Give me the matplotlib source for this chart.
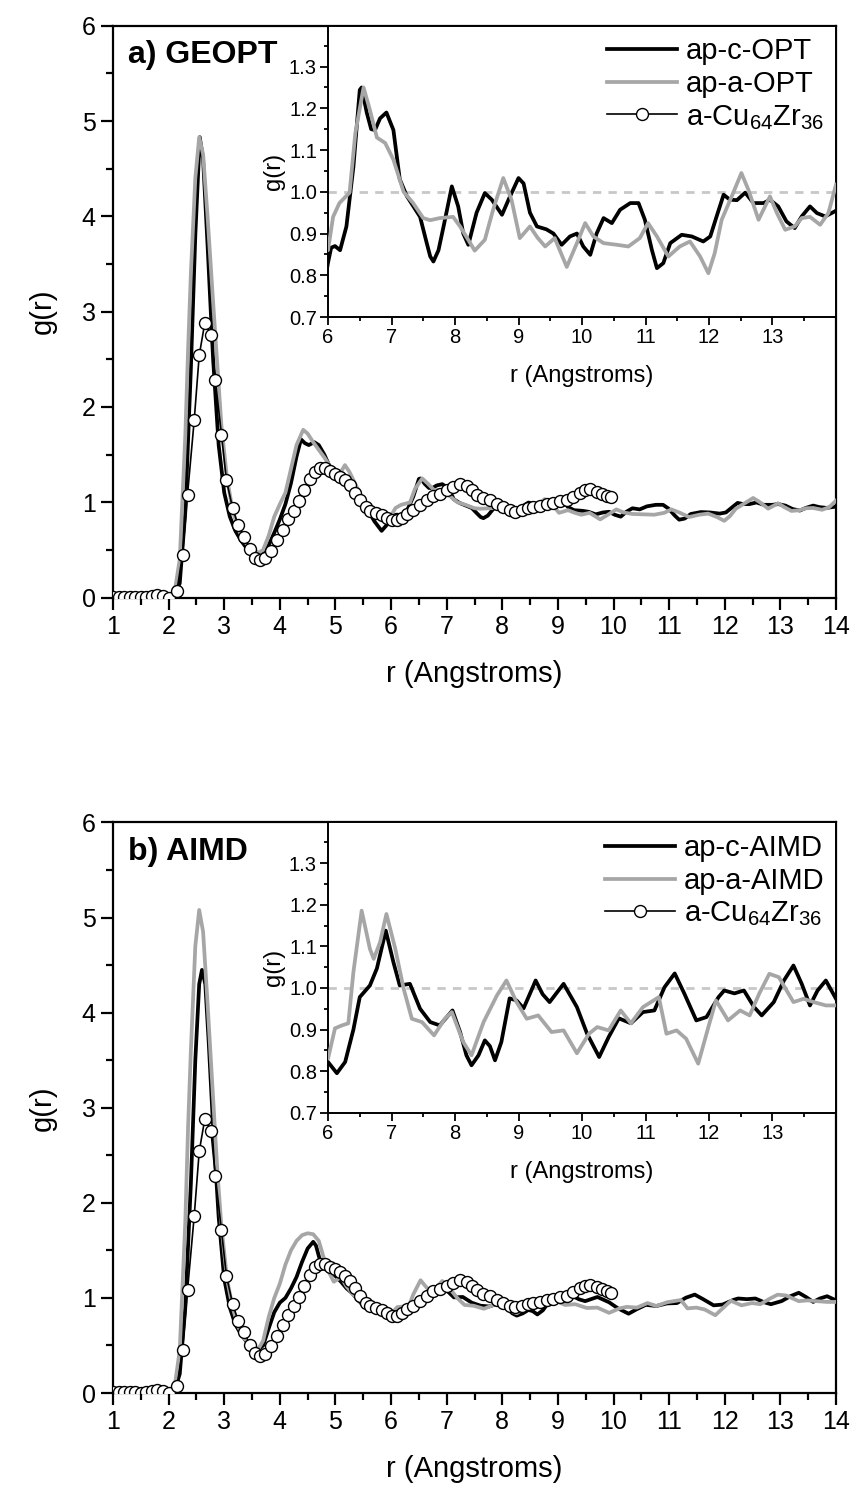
import matplotlib
matplotlib.use('Agg')
import matplotlib.pyplot as plt
from matplotlib.ticker import MultipleLocator, FixedLocator
from matplotlib.lines import Line2D

plt.rcParams['font.family'] = ['Liberation Sans', 'DejaVu Sans']
plt.rcParams['mathtext.fontset'] = 'custom'
plt.rcParams['mathtext.rm'] = 'Liberation Sans'
plt.rcParams['mathtext.it'] = 'Liberation Sans:italic'
plt.rcParams['mathtext.bf'] = 'Liberation Sans:bold'

# ---------------- data ----------------
# experimental a-Cu64Zr36 (shared by both panels)
r_exp = [1.0, 1.1, 1.2, 1.3, 1.4, 1.5, 1.6, 1.7, 1.8, 1.9, 2.0,
         2.15, 2.25, 2.34, 2.46, 2.55, 2.65, 2.76, 2.84, 2.95, 3.04, 3.15,
         3.25, 3.36, 3.46, 3.55, 3.64, 3.74, 3.84, 3.94,
         4.05, 4.15, 4.26, 4.35, 4.44, 4.54, 4.63, 4.72, 4.81, 4.90, 4.99,
         5.08, 5.17, 5.26, 5.35, 5.44, 5.55, 5.63, 5.73, 5.83, 5.92,
         6.01, 6.10, 6.19, 6.28, 6.40, 6.52, 6.64, 6.76, 6.88,
         7.0, 7.12, 7.24, 7.36, 7.45, 7.54, 7.66, 7.78, 7.90,
         8.02, 8.14, 8.23, 8.35, 8.47, 8.56, 8.68, 8.80, 8.92,
         9.04, 9.16, 9.28, 9.40, 9.49, 9.58, 9.70, 9.79, 9.88, 9.95]
g_exp = [0.01, 0.01, 0.01, 0.01, 0.01, 0.005, 0.01, 0.02, 0.03, 0.02, 0.0,
         0.07, 0.45, 1.08, 1.86, 2.54, 2.88, 2.76, 2.28, 1.71, 1.23, 0.94,
         0.76, 0.64, 0.51, 0.42, 0.39, 0.41, 0.49, 0.60,
         0.71, 0.82, 0.91, 1.01, 1.13, 1.24, 1.32, 1.36, 1.36, 1.33, 1.30,
         1.27, 1.23, 1.18, 1.10, 1.02, 0.95, 0.91, 0.89, 0.87, 0.84,
         0.81, 0.81, 0.84, 0.88, 0.92, 0.97, 1.02, 1.07, 1.09,
         1.13, 1.16, 1.19, 1.17, 1.13, 1.08, 1.04, 1.02, 0.98,
         0.95, 0.92, 0.90, 0.92, 0.94, 0.95, 0.96, 0.98, 0.99,
         1.01, 1.02, 1.06, 1.10, 1.13, 1.14, 1.11, 1.09, 1.07, 1.05]

# ap-c-OPT
r_c_opt = [1.0, 2.0, 2.1, 2.2, 2.3, 2.4, 2.48, 2.56, 2.62, 2.7, 2.8, 2.9, 3.0, 3.1, 3.2, 3.3, 3.4, 3.5,
           3.6, 3.7, 3.8, 3.9, 4.0, 4.1, 4.2, 4.3, 4.38, 4.45, 4.52, 4.62, 4.7, 4.8, 4.9, 5.0, 5.1, 5.2,
           5.3, 5.4, 5.5, 5.6, 5.7, 5.83, 5.92, 6.0, 6.05, 6.11, 6.19, 6.29, 6.40, 6.50, 6.53, 6.61,
           6.68, 6.74, 6.82, 6.92, 7.03, 7.13, 7.24, 7.45, 7.55, 7.61, 7.66, 7.74, 7.82, 7.95, 8.05,
           8.13, 8.21, 8.34, 8.47, 8.58, 8.74, 8.84, 9.0, 9.08, 9.18, 9.29, 9.44, 9.55, 9.68, 9.81,
           9.92, 10.02, 10.13, 10.23, 10.34, 10.47, 10.6, 10.76, 10.89, 10.99, 11.10, 11.18, 11.28,
           11.39, 11.57, 11.73, 11.91, 12.02, 12.12, 12.23, 12.33, 12.44, 12.57, 12.70, 12.86, 12.96,
           13.09, 13.22, 13.35, 13.46, 13.59, 13.70, 13.83, 13.98, 14.0]
g_c_opt = [0.0, 0.0, 0.01, 0.15, 0.9, 2.4, 3.8, 4.83, 4.6, 3.7, 2.5, 1.6, 1.1, 0.85, 0.7, 0.6, 0.52, 0.47,
           0.44, 0.47, 0.55, 0.68, 0.82, 0.98, 1.2, 1.48, 1.66, 1.62, 1.6, 1.63, 1.6, 1.5, 1.37, 1.27, 1.22, 1.18,
           1.13, 1.08, 1.0, 0.9, 0.8, 0.70, 0.76, 0.83, 0.866, 0.87, 0.86, 0.917, 1.06, 1.244, 1.25, 1.19,
           1.15, 1.148, 1.176, 1.19, 1.148, 1.03, 0.99, 0.94, 0.88, 0.845, 0.833, 0.86, 0.917, 1.013, 0.965,
           0.90, 0.873, 0.95, 0.997, 0.981, 0.945, 0.98, 1.033, 1.02, 0.95, 0.917, 0.91, 0.90, 0.873, 0.893,
           0.90, 0.869, 0.849, 0.90, 0.937, 0.925, 0.957, 0.973, 0.973, 0.933, 0.861, 0.817, 0.829,
           0.877, 0.897, 0.893, 0.881, 0.893, 0.941, 0.993, 0.981, 0.98, 0.998, 0.973, 0.973, 0.981,
           0.965, 0.929, 0.913, 0.941, 0.965, 0.949, 0.941, 0.953, 0.955]

# ap-a-OPT
r_a_opt = [1.0, 2.0, 2.1, 2.2, 2.3, 2.35, 2.4, 2.48, 2.55, 2.62, 2.7, 2.8, 2.88, 2.95, 3.05, 3.15, 3.25,
           3.35, 3.45, 3.55, 3.62, 3.7, 3.8, 3.9, 4.0, 4.1, 4.2, 4.3, 4.42, 4.5, 4.6, 4.7, 4.8, 4.9, 5.0,
           5.1, 5.17, 5.25, 5.35, 5.45, 5.55, 5.65, 5.75, 5.85, 5.95, 6.0, 6.08, 6.18, 6.34, 6.43, 6.56,
           6.66, 6.77, 6.90, 7.03, 7.19, 7.34, 7.50, 7.61, 7.76, 7.97, 8.08, 8.24, 8.31, 8.47, 8.60, 8.76,
           8.89, 9.02, 9.18, 9.30, 9.42, 9.57, 9.76, 9.92, 10.05, 10.18, 10.34, 10.55, 10.73, 10.91, 11.04,
           11.18, 11.36, 11.54, 11.70, 11.86, 11.99, 12.09, 12.20, 12.38, 12.51, 12.62, 12.78, 12.96,
           13.07, 13.20, 13.35, 13.46, 13.59, 13.75, 13.88, 14.0]
g_a_opt = [0.0, 0.0, 0.03, 0.4, 1.7, 2.6, 3.4, 4.4, 4.83, 4.65, 4.0, 3.1, 2.4, 1.8, 1.25, 0.92, 0.72,
           0.6, 0.53, 0.49, 0.47, 0.5, 0.65, 0.85, 0.98, 1.1, 1.35, 1.6, 1.76, 1.72, 1.63, 1.55, 1.47, 1.38, 1.33,
           1.32, 1.39, 1.32, 1.2, 1.08, 0.97, 0.92, 0.9, 0.88, 0.86, 0.86, 0.94, 0.973, 0.998, 1.14, 1.25,
           1.196, 1.13, 1.117, 1.077, 1.0, 0.973, 0.937, 0.932, 0.937, 0.94, 0.917, 0.877, 0.859, 0.885, 0.957, 1.033,
           0.981, 0.889, 0.917, 0.89, 0.869, 0.889, 0.82, 0.877, 0.925, 0.893, 0.877, 0.873, 0.869, 0.889, 0.925,
           0.893, 0.845, 0.869, 0.881, 0.845, 0.805, 0.853, 0.933, 0.997, 1.045, 1.005, 0.933, 0.989,
           0.949, 0.909, 0.917, 0.937, 0.94, 0.921, 0.949, 1.017]

# ap-c-AIMD
r_c_aimd = [1.0, 2.0, 2.1, 2.2, 2.3, 2.4, 2.48, 2.55, 2.6, 2.66, 2.72, 2.8, 2.9, 3.0, 3.1, 3.2, 3.3, 3.4,
            3.5, 3.6, 3.7, 3.8, 3.9, 4.0, 4.1, 4.2, 4.3, 4.4, 4.5, 4.6, 4.65, 4.72, 4.8, 4.9, 5.0, 5.1, 5.2,
            5.3, 5.4, 5.5, 5.6, 5.7, 5.8, 5.9, 6.0, 6.14, 6.27, 6.40, 6.50, 6.66, 6.77, 6.91, 7.03, 7.13,
            7.29, 7.45, 7.61, 7.76, 7.96, 8.08, 8.18, 8.26, 8.37, 8.47, 8.55, 8.63, 8.73, 8.86, 8.97, 9.08,
            9.27, 9.38, 9.49, 9.71, 9.92, 10.08, 10.27, 10.42, 10.58, 10.77, 10.96, 11.14, 11.30, 11.46,
            11.61, 11.80, 11.96, 12.15, 12.24, 12.40, 12.55, 12.71, 12.83, 13.02, 13.18, 13.33, 13.46,
            13.59, 13.71, 13.84, 14.0]
g_c_aimd = [0.0, 0.0, 0.01, 0.2, 0.9, 2.2, 3.5, 4.3, 4.45, 4.3, 3.7, 2.8, 1.85, 1.2, 0.9, 0.72, 0.62, 0.54,
            0.48, 0.45, 0.5, 0.68, 0.85, 0.95, 1.0, 1.1, 1.22, 1.38, 1.52, 1.59, 1.55, 1.40, 1.33, 1.29, 1.23, 1.17, 1.1,
            1.05, 0.98, 0.92, 0.9, 0.88, 0.86, 0.84, 0.822, 0.795, 0.822, 0.90, 0.978, 1.006, 1.047, 1.138, 1.062, 1.006,
            1.01, 0.95, 0.918, 0.91, 0.946, 0.894, 0.838, 0.814, 0.838, 0.874, 0.86, 0.826, 0.87, 0.975, 0.97, 0.951,
            1.018, 0.985, 0.966, 1.01, 0.954, 0.89, 0.834, 0.882, 0.927, 0.915, 0.942, 0.946, 1.002, 1.035,
            0.987, 0.922, 0.93, 0.978, 0.994, 0.987, 0.994, 0.954, 0.934, 0.966, 1.018, 1.054, 1.01,
            0.958, 0.994, 1.018, 0.974]

# ap-a-AIMD
r_a_aimd = [1.0, 2.0, 2.1, 2.2, 2.3, 2.35, 2.4, 2.48, 2.55, 2.62, 2.7, 2.8, 2.88, 2.95, 3.05, 3.15, 3.25,
            3.35, 3.45, 3.55, 3.62, 3.7, 3.8, 3.9, 4.0, 4.1, 4.2, 4.3, 4.4, 4.5, 4.6, 4.7, 4.8, 4.9, 4.97,
            5.05, 5.1, 5.2, 5.3, 5.4, 5.5, 5.6, 5.7, 5.8, 5.9, 6.0, 6.11, 6.22, 6.32, 6.40, 6.53, 6.66, 6.72,
            6.82, 6.92, 7.06, 7.19, 7.32, 7.48, 7.67, 7.84, 7.95, 8.13, 8.26, 8.45, 8.66, 8.81, 8.97, 9.13,
            9.31, 9.52, 9.71, 9.92, 10.11, 10.24, 10.42, 10.61, 10.77, 10.96, 11.21, 11.33, 11.49, 11.64,
            11.83, 11.99, 12.11, 12.30, 12.49, 12.64, 12.79, 12.95, 13.10, 13.33, 13.49, 13.65, 13.84, 14.0]
g_a_aimd = [0.0, 0.0, 0.03, 0.45, 1.8, 2.8, 3.6, 4.7, 5.08, 4.85, 4.1, 3.1, 2.3, 1.75, 1.2, 0.9, 0.7,
            0.58, 0.52, 0.48, 0.47, 0.55, 0.8, 1.0, 1.15, 1.35, 1.5, 1.6, 1.66, 1.68, 1.67, 1.6, 1.4, 1.25, 1.17,
            1.2, 1.22, 1.12, 1.05, 0.98, 0.94, 0.92, 0.91, 0.89, 0.87, 0.83, 0.903, 0.91, 0.915, 1.038, 1.186, 1.094, 1.07,
            1.11, 1.178, 1.094, 0.999, 0.926, 0.918, 0.886, 0.926, 0.942, 0.87, 0.838, 0.918, 0.982, 1.018, 0.966, 0.926,
            0.934, 0.894, 0.898, 0.843, 0.89, 0.906, 0.898, 0.946, 0.915, 0.954, 0.978, 0.89, 0.898, 0.878,
            0.818, 0.906, 0.97, 0.922, 0.946, 0.934, 0.986, 1.034, 1.026, 0.966, 0.974, 0.966, 0.958, 0.958]

panels = [
    dict(tag='a) GEOPT', lab_c='ap-c-OPT', lab_a='ap-a-OPT',
         rc=r_c_opt, gc=g_c_opt, ra=r_a_opt, ga=g_a_opt,
         main=[0.13263, 0.5976, 0.84859, 0.3851], ins=[0.38498, 0.78653, 0.59624, 0.19616]),
    dict(tag='b) AIMD', lab_c='ap-c-AIMD', lab_a='ap-a-AIMD',
         rc=r_c_aimd, gc=g_c_aimd, ra=r_a_aimd, ga=g_a_aimd,
         main=[0.13263, 0.06195, 0.84859, 0.38418], ins=[0.38498, 0.2507, 0.59624, 0.19543]),
]

BLACK = '#000000'
GRAY = '#a6a6a6'
LW = 2.7

fig = plt.figure(figsize=(8.52, 14.85), dpi=100)

for p in panels:
    ax = fig.add_axes(p['main'])
    ax.plot(p['rc'], p['gc'], color=BLACK, lw=LW, zorder=2, solid_joinstyle='round')
    ax.plot(p['ra'], p['ga'], color=GRAY, lw=LW, zorder=3, solid_joinstyle='round')
    ax.plot(r_exp, g_exp, color='black', lw=1.2, marker='o', ms=8.6,
            mfc='white', mec='black', mew=1.0, zorder=4)
    ax.set_xlim(1, 14)
    ax.set_ylim(0, 6)
    ax.xaxis.set_major_locator(MultipleLocator(1))
    ax.xaxis.set_minor_locator(MultipleLocator(0.5))
    ax.yaxis.set_major_locator(MultipleLocator(1))
    ax.yaxis.set_minor_locator(MultipleLocator(0.5))
    ax.tick_params(which='both', direction='out', top=False, right=False, width=1.6)
    ax.tick_params(which='major', length=8.5, labelsize=18)
    ax.tick_params(which='minor', length=5)
    ax.tick_params(axis='x', which='major', pad=4)
    ax.tick_params(axis='y', which='major', pad=4)
    for s in ax.spines.values():
        s.set_linewidth(1.6)
    ax.set_xlabel('r (Angstroms)', fontsize=21, labelpad=15)
    ax.set_ylabel('g(r)', fontsize=21, labelpad=18)
    ax.text(0.021, 0.948, p['tag'], transform=ax.transAxes, fontsize=23,
            fontweight='bold', ha='left', va='center', zorder=6)

    ins = fig.add_axes(p['ins'])
    ins.plot(p['rc'], p['gc'], color=BLACK, lw=LW, zorder=2, solid_joinstyle='round')
    ins.plot(p['ra'], p['ga'], color=GRAY, lw=LW, zorder=3, solid_joinstyle='round')
    ins.axhline(1.0, color='#c8c8c8', lw=2.0, dashes=(3.0, 2.6), zorder=1)
    ins.set_xlim(6, 14)
    ins.set_ylim(0.7, 1.398)
    ins.xaxis.set_major_locator(FixedLocator([6, 7, 8, 9, 10, 11, 12, 13]))
    ins.xaxis.set_minor_locator(MultipleLocator(0.5))
    ins.yaxis.set_major_locator(FixedLocator([0.7, 0.8, 0.9, 1.0, 1.1, 1.2, 1.3]))
    ins.yaxis.set_minor_locator(MultipleLocator(0.05))
    ins.set_yticklabels(['0.7', '0.8', '0.9', '1.0', '1.1', '1.2', '1.3'])
    ins.tick_params(which='both', direction='out', top=False, right=False, width=1.3)
    ins.tick_params(which='major', length=5.5, labelsize=14.5, pad=2.5)
    ins.tick_params(which='minor', length=3)
    for s in ins.spines.values():
        s.set_linewidth(1.4)
    ins.set_xlabel('r (Angstroms)', fontsize=17, labelpad=13)
    ins.set_ylabel('g(r)', fontsize=17, labelpad=3)

    h_c = Line2D([], [], color=BLACK, lw=LW)
    h_a = Line2D([], [], color=GRAY, lw=LW)
    h_e = Line2D([], [], color='black', lw=1.2, marker='o', ms=8.6, mfc='white', mec='black', mew=1.0)
    ins.legend([h_c, h_a, h_e],
               [p['lab_c'], p['lab_a'], r'a-Cu$_{\mathregular{64}}$Zr$_{\mathregular{36}}$'],
               loc='upper right', bbox_to_anchor=(1.0, 1.0), frameon=False,
               fontsize=21, handlelength=2.4, handletextpad=0.3,
               labelspacing=0.16, borderaxespad=0.2, borderpad=0.2)

fig.savefig('out.png', dpi=100)
